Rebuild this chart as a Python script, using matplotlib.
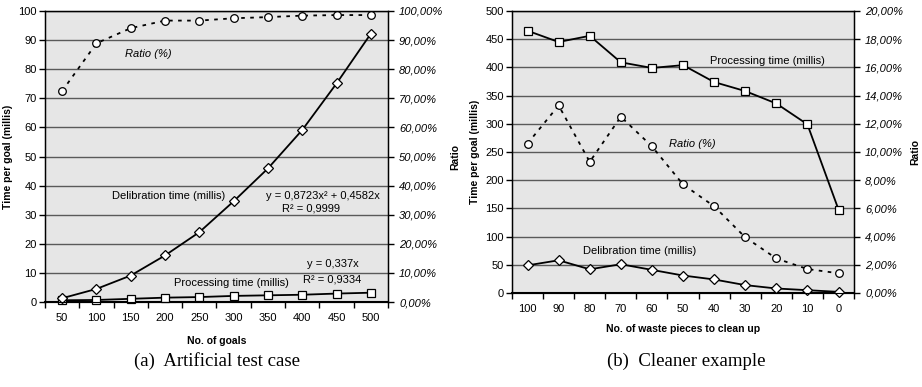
import numpy as np
import matplotlib
matplotlib.use("Agg")
import matplotlib.pyplot as plt
from matplotlib.ticker import FuncFormatter, MultipleLocator

plt.rcParams["font.family"] = ["Liberation Sans", "DejaVu Sans"]

# (a) Artificial test case
goals = [50, 100, 150, 200, 250, 300, 350, 400, 450, 500]
delib_a = [1.3, 4.5, 9.1, 16.0, 24.0, 34.6, 45.9, 59.1, 75.1, 92.2]
proc_a = [0.6, 0.7, 1.1, 1.5, 1.7, 2.1, 2.3, 2.5, 2.9, 3.2]
ratio_a = [72.5, 88.9, 94.1, 96.7, 96.7, 97.5, 97.9, 98.4, 98.6, 98.6]

# (b) Cleaner example
waste = [100, 90, 80, 70, 60, 50, 40, 30, 20, 10, 0]
proc_b = [465, 445, 456, 409, 399, 404, 374, 358, 336, 299, 148]
delib_b = [49, 58, 42, 51, 41, 31, 24, 14, 8, 5, 2]
ratio_b = [10.6, 13.3, 9.3, 12.5, 10.4, 7.7, 6.15, 3.95, 2.45, 1.7, 1.4]

BG = "#e6e6e6"
GRID = "#5a5a5a"
FS = 8


def pct_fmt(v, pos):
    return f"{v:.2f}%".replace(".", ",")


def setup_axes(fig, rect, cats, ymax, ystep, rmax, rstep, xlabel, xlabel_pad):
    ax = fig.add_axes(rect)
    ax.set_facecolor(BG)
    n = len(cats)
    x = np.arange(n)
    ax.set_xlim(-0.5, n - 0.5)
    ax.set_ylim(0, ymax)
    ax.yaxis.set_major_locator(MultipleLocator(ystep))
    ax.set_xticks(x)
    ax.set_xticklabels([str(c) for c in cats], fontsize=FS)
    # category boundaries get the tick marks, like excel
    ax.set_xticks(np.arange(n + 1) - 0.5, minor=True)
    ax.tick_params(axis="x", which="major", length=0, pad=8)
    ax.tick_params(axis="x", which="minor", length=4, direction="out", width=1)
    ax.tick_params(axis="y", labelsize=FS, length=4, width=1, pad=2)
    ax.grid(axis="y", color=GRID, lw=1)
    ax.set_axisbelow(True)
    for s in ax.spines.values():
        s.set_linewidth(1)
    ax.spines["bottom"].set_linewidth(1.5)
    ax.set_ylabel("Time per goal (millis)", fontsize=7.5, fontweight="bold", labelpad=4)
    ax.set_xlabel(xlabel, fontsize=7.5, fontweight="bold", labelpad=xlabel_pad)

    ax2 = ax.twinx()
    ax2.set_ylim(0, rmax)
    ax2.yaxis.set_major_locator(MultipleLocator(rstep))
    ax2.yaxis.set_major_formatter(FuncFormatter(pct_fmt))
    ax2.tick_params(axis="y", labelsize=FS, length=4, width=1, pad=4)
    ax2.set_ylabel("Ratio", fontsize=7.5, fontweight="bold", labelpad=5)
    return ax, ax2, x


fig = plt.figure(figsize=(9.22, 3.87), dpi=100)

mk = dict(markerfacecolor="white", markeredgecolor="black", markeredgewidth=0.9,
          color="black", lw=1.3, clip_on=False)

# ---- chart (a)
ax, ax2, x = setup_axes(fig, [0.0488, 0.2196, 0.372, 0.752], goals, 100, 10,
                        100, 10, "No. of goals", 9)
ax.plot(x, proc_a, marker="s", markersize=5.2, zorder=3, **mk)
ax.plot(x, delib_a, marker="D", markersize=4.8, zorder=4, **mk)
ax2.plot(x, ratio_a, marker="o", markersize=5.5, ls=(0, (2, 3)), **mk)
for lab in ax2.get_yticklabels():
    lab.set_fontstyle("italic")

ax.text(2.5, 85.2, "Ratio (%)", fontsize=FS, style="italic", ha="center", va="center")
ax.text(3.1, 36.4, "Delibration time (millis)", fontsize=FS, ha="center", va="center")
ax.text(7.6, 36.6, "y = 0,8723x² + 0,4582x", fontsize=FS, ha="center", va="center")
ax.text(7.25, 32.0, "R² = 0,9999", fontsize=FS, ha="center", va="center")
ax.text(7.9, 13.0, "y = 0,337x", fontsize=FS, ha="center", va="center")
ax.text(7.86, 7.9, "R² = 0,9334", fontsize=FS, ha="center", va="center")
ax.text(4.95, 6.6, "Processing time (millis)", fontsize=FS, ha="center", va="center")

# ---- chart (b)
bx, bx2, xb = setup_axes(fig, [0.5553, 0.2429, 0.371, 0.7287], waste, 500, 50,
                         20, 2, "No. of waste pieces to clean up", 7)
bx.plot(xb, proc_b, marker="s", markersize=5.2, zorder=3, **mk)
bx.plot(xb, delib_b, marker="D", markersize=4.8, zorder=4, **mk)
bx2.plot(xb, ratio_b, marker="o", markersize=5.5, ls=(0, (2, 3)), **mk)
for lab in bx2.get_yticklabels():
    lab.set_fontstyle("italic")

bx.text(7.7, 411, "Processing time (millis)", fontsize=FS, ha="center", va="center")
bx.text(5.3, 264, "Ratio (%)", fontsize=FS, style="italic", ha="center", va="center")
bx.text(3.6, 74, "Delibration time (millis)", fontsize=FS, ha="center", va="center")

# captions
fig.text(0.235, 0.067, "(a)  Artificial test case", family="Liberation Serif",
         fontsize=13.5, ha="center", va="center")
fig.text(0.744, 0.067, "(b)  Cleaner example", family="Liberation Serif",
         fontsize=13.5, ha="center", va="center")

fig.savefig("out.png", dpi=100)
